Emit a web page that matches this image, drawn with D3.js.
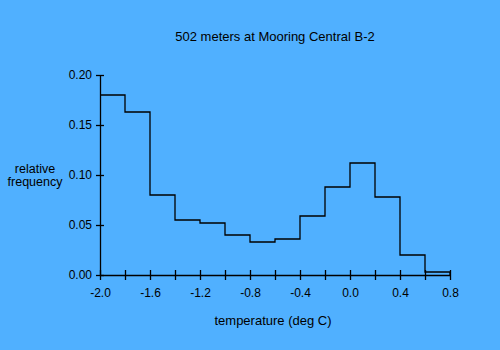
<!DOCTYPE html>
<html><head><meta charset="utf-8">
<script src="https://cdn.jsdelivr.net/npm/d3@7"></script>
<style>html,body{margin:0;padding:0;background:#50B0FF;}svg{display:block;}</style>
</head><body>
<script>
const binStarts = [-2.0,-1.8,-1.6,-1.4,-1.2,-1.0,-0.8,-0.6,-0.4,-0.2,0.0,0.2,0.4,0.6];
const binWidth = 0.2;
const frequencies = [0.180,0.163,0.080,0.055,0.052,0.040,0.033,0.036,0.059,0.088,0.112,0.078,0.020,0.003];
const xTickValues = [-2.0,-1.8,-1.6,-1.4,-1.2,-1.0,-0.8,-0.6,-0.4,-0.2,0.0,0.2,0.4,0.6,0.8];
const xTickLabels = [-2.0,-1.6,-1.2,-0.8,-0.4,0.0,0.4,0.8];
const yTickValues = [0.00,0.05,0.10,0.15,0.20];
const title = "502 meters at Mooring Central B-2";
const xTitle = "temperature (deg C)";
const yTitleLines = ["relative","frequency"];

const W=500,H=350;
const svg=d3.select("body").append("svg").attr("width",W).attr("height",H);
svg.append("rect").attr("width",W).attr("height",H).attr("fill","#50B0FF");
const x=d3.scaleLinear().domain([-2.0,0.8]).range([100,450]);
const y=d3.scaleLinear().domain([0,0.20]).range([275,75]);
const font="Liberation Sans, Arial, sans-serif";
const fmt1=d=>d3.format(".1f")(d).replace("\u2212","-");

// x axis
const xa=svg.append("g").attr("transform","translate(0,275)")
  .call(d3.axisBottom(x).tickValues(xTickValues).tickSize(5).tickFormat(d=>xTickLabels.some(v=>Math.abs(v-d)<1e-9)?fmt1(d):""));
xa.select(".domain").attr("stroke","#000").attr("stroke-width",1.3).attr("d","M100,0.5H450");
xa.selectAll(".tick line").attr("y1",-5).attr("y2",5).attr("stroke","#000").attr("stroke-width",1.3);
xa.selectAll(".tick text").attr("y",13).attr("font-family",font).attr("font-size",12).attr("fill","#000");

// y axis
const ya=svg.append("g").attr("transform","translate(100,0)")
  .call(d3.axisLeft(y).tickValues(yTickValues).tickSize(4).tickFormat(d3.format(".2f")));
ya.select(".domain").attr("stroke","#000").attr("stroke-width",1.3).attr("d","M0.5,75V275");
ya.selectAll(".tick line").attr("x1",-4).attr("x2",4).attr("stroke","#000").attr("stroke-width",1.3);
ya.selectAll(".tick text").attr("x",-8).attr("font-family",font).attr("font-size",12).attr("fill","#000");

// histogram step line
const pts=[];
binStarts.forEach((s,i)=>{
  pts.push([x(s),y(frequencies[i])]);
  pts.push([x(s+binWidth),y(frequencies[i])]);
});
pts.push([x(binStarts[binStarts.length-1]+binWidth),y(0)]);
svg.append("path").attr("d",d3.line()(pts)).attr("fill","none").attr("stroke","#000").attr("stroke-width",1.3);

svg.append("text").attr("x",275).attr("y",41).attr("text-anchor","middle").attr("font-family",font).attr("font-size",13).text(title);
svg.append("text").attr("x",273).attr("y",325).attr("text-anchor","middle").attr("font-family",font).attr("font-size",13).text(xTitle);
yTitleLines.forEach((t,i)=>svg.append("text").attr("x",35).attr("y",173+i*13).attr("text-anchor","middle").attr("font-family",font).attr("font-size",12.5).text(t));
</script>
</body></html>
